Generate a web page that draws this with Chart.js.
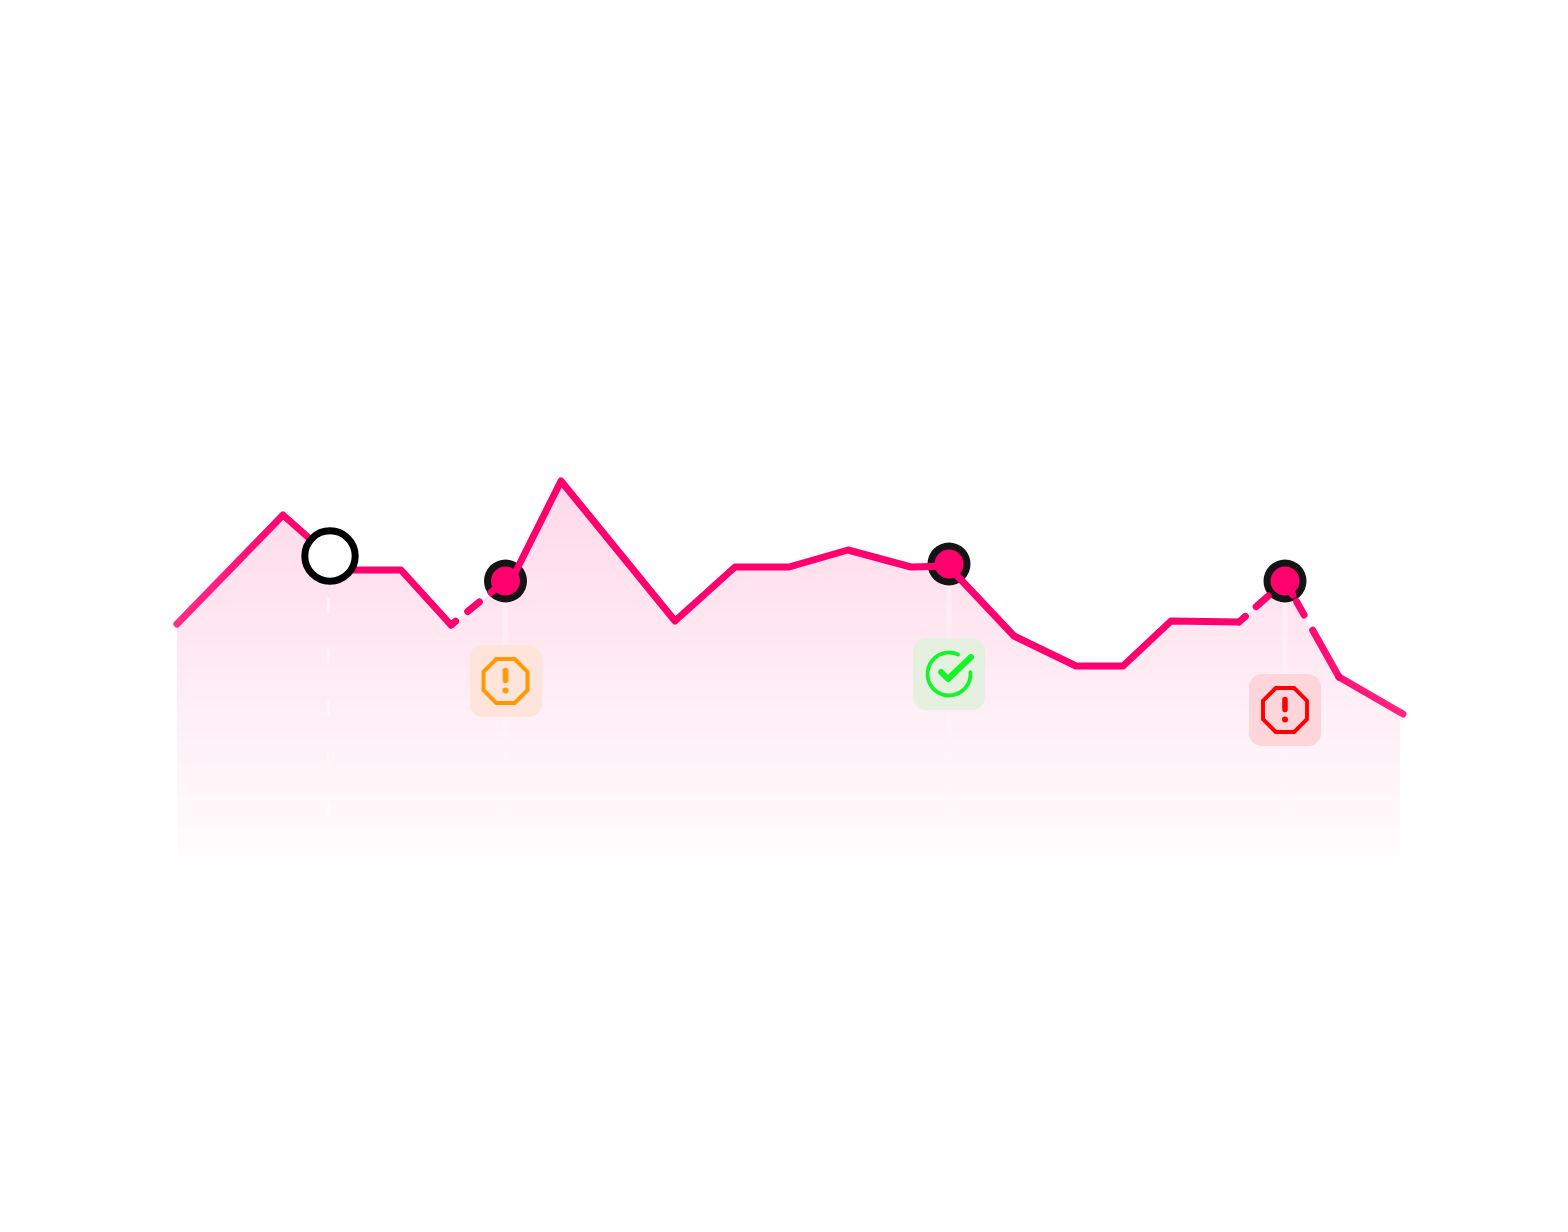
<!DOCTYPE html>
<html lang="en">
<head>
  <meta charset="UTF-8">
  <title>Trend with status markers</title>
  <script src="https://cdn.jsdelivr.net/npm/chart.js"></script>
  <style>
    body { margin: 0; background: white; }
    canvas { display: block; }
  </style>
</head>
<body>
  <canvas id="trendChart" width="1568" height="1232"></canvas>

  <script>
    const xValues = [0, 106, 168, 224, 274, 338, 384, 498, 558, 612, 671, 734, 771, 837, 899, 946, 994, 1062, 1108, 1162, 1226];
    const yValues = [261, 370, 315, 315, 260, 312, 404, 264, 318, 318, 335, 318, 319, 249, 219, 219, 264, 263, 304, 208, 171];
    const fillXValues = [0, 106, 168, 224, 274, 338, 384, 498, 558, 612, 671, 734, 771, 837, 899, 946, 994, 1062, 1108, 1162, 1223];
    const fillYValues = [261, 370, 315, 315, 260, 312, 404, 264, 318, 318, 335, 318, 319, 249, 219, 219, 264, 263, 304, 208, 173];

    const openMarkerX = [153];
    const openMarkerY = [329];
    const dotX = [328.5, 772, 1108];
    const dotY = [304, 321, 304];
    const statusY = [204, 211, 175];
    const statusKinds = ["warning", "ok", "danger"];
    const guideEnd = 55;

    const pink = "#ff006e";
    const xMax = 1226;
    const yMax = 500;

    function points(xs, ys) {
      return xs.map((x, i) => ({ x, y: ys[i] }));
    }

    // dash patterns for the broken parts of the line, by segment start index
    const segmentDash = {
      4: [6, 15.5, 15, 15, 200, 0],
      17: [8.5, 14.5, 16, 30],
      18: [16, 7.5, 15.5, 17.5, 200, 0]
    };

    function makeIcon(kind) {
      const c = document.createElement("canvas");
      c.width = 72;
      c.height = 72;
      const g = c.getContext("2d");
      const tiles = { warning: "#fee4da", ok: "#e6f0e0", danger: "#ffd5dc" };
      const inks = { warning: "#ff9800", ok: "#14f527", danger: "#ff0000" };
      g.fillStyle = tiles[kind];
      g.beginPath();
      g.roundRect(0, 0, 72, 72, 13);
      g.fill();
      g.translate(36, 36);
      g.strokeStyle = inks[kind];
      g.fillStyle = inks[kind];
      g.lineCap = "round";
      g.lineJoin = "round";

      if (kind === "ok") {
        g.lineWidth = 3.8;
        g.beginPath();
        g.arc(0, 0, 21.5, -5 * Math.PI / 180, -65 * Math.PI / 180);
        g.stroke();
        g.lineWidth = 6;
        g.beginPath();
        g.moveTo(-8, -2);
        g.lineTo(-1, 5);
        g.lineTo(22, -17);
        g.stroke();
      } else {
        g.lineWidth = 3.9;
        g.lineJoin = "miter";
        g.beginPath();
        const o = 22, e = 9.2;
        [[-e, -o], [e, -o], [o, -e], [o, e], [e, o], [-e, o], [-o, e], [-o, -e]].forEach(p => g.lineTo(p[0], p[1]));
        g.closePath();
        g.stroke();
        g.lineWidth = 5.5;
        g.beginPath();
        g.moveTo(0, -10.5);
        g.lineTo(0, -0.5);
        g.stroke();
        g.beginPath();
        g.arc(0, 9.5, 3, 0, Math.PI * 2);
        g.fill();
      }
      return c;
    }

    function lineGradient(ctx) {
      const area = ctx.chart.chartArea;
      if (!area) return pink;
      const grad = ctx.chart.ctx.createLinearGradient(area.left, 0, area.right, 0);
      grad.addColorStop(0, "rgba(255,0,110,0.82)");
      grad.addColorStop(0.1, "rgba(255,0,110,1)");
      grad.addColorStop(0.9, "rgba(255,0,110,1)");
      grad.addColorStop(1, "rgba(255,0,110,0.85)");
      return grad;
    }

    function fillGradient(ctx) {
      const area = ctx.chart.chartArea;
      if (!area) return "transparent";
      const grad = ctx.chart.ctx.createLinearGradient(0, 481, 0, area.bottom);
      grad.addColorStop(0, "rgba(255,0,110,0.15)");
      grad.addColorStop(1, "rgba(255,0,110,0)");
      return grad;
    }

    function guideGradient(ctx) {
      const grad = ctx.chart.ctx.createLinearGradient(0, 590, 0, 830);
      grad.addColorStop(0, "rgba(255,255,255,0.3)");
      grad.addColorStop(1, "rgba(255,255,255,0)");
      return grad;
    }

    const datasets = [
      {
        // area under the line
        data: points(fillXValues, fillYValues),
        borderWidth: 0,
        pointRadius: 0,
        fill: "start",
        backgroundColor: fillGradient,
        order: 10
      },
      {
        // dashed guide under the open marker
        data: points([openMarkerX[0] - 1.5, openMarkerX[0] - 1.5], [287, 0]),
        borderColor: "rgba(255,255,255,0.45)",
        borderWidth: 2.5,
        borderDash: [15, 36],
        pointRadius: 0,
        order: 9
      },
      ...dotX.map((x, i) => ({
        data: points([x, x], [dotY[i], guideEnd]),
        borderColor: guideGradient,
        borderWidth: 5,
        pointRadius: 0,
        order: 9
      })),
      {
        // dark ring of the filled markers
        data: points(dotX, dotY),
        showLine: false,
        pointRadius: 21.5,
        pointBorderWidth: 0,
        pointBackgroundColor: "#141414",
        clip: false,
        order: 8
      },
      {
        data: points(xValues, yValues),
        borderColor: lineGradient,
        borderWidth: 7,
        borderCapStyle: "round",
        borderJoinStyle: "round",
        tension: 0,
        pointRadius: 0,
        clip: false,
        segment: {
          borderDash: ctx => segmentDash[ctx.p0DataIndex]
        },
        order: 7
      },
      {
        data: points(dotX, dotY),
        showLine: false,
        pointRadius: 14.5,
        pointBorderWidth: 0,
        pointBackgroundColor: pink,
        order: 6
      },
      {
        data: points(dotX, statusY),
        showLine: false,
        pointStyle: statusKinds.map(makeIcon),
        order: 5
      },
      {
        data: points(openMarkerX, openMarkerY),
        showLine: false,
        pointRadius: 25.2,
        pointBorderWidth: 7,
        pointBorderColor: "#000000",
        pointBackgroundColor: "#ffffff",
        order: 4
      }
    ];

    new Chart(document.getElementById("trendChart"), {
      type: "line",
      data: { datasets },
      options: {
        responsive: false,
        animation: false,
        events: [],
        layout: { padding: { left: 177, right: 165, top: 385, bottom: 347 } },
        plugins: {
          legend: { display: false },
          tooltip: { enabled: false },
          title: { display: false }
        },
        scales: {
          x: { type: "linear", min: 0, max: xMax, display: false },
          y: { type: "linear", min: 0, max: yMax, display: false }
        }
      }
    });
  </script>
</body>
</html>
